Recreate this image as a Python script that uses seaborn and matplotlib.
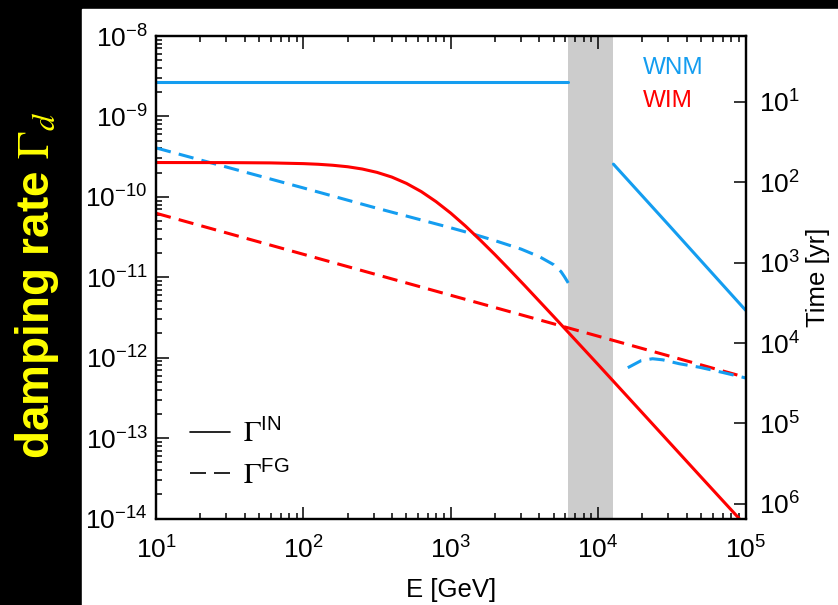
import numpy as np
import pandas as pd
import matplotlib
matplotlib.use("Agg")
import matplotlib.pyplot as plt
import seaborn as sns
from matplotlib.patches import Rectangle
from matplotlib.lines import Line2D
from matplotlib.ticker import LogLocator, FuncFormatter, NullLocator

# WNM, ion-neutral damping (broken by the grey band)
e_wnm_in_lo = [10, 6.27e3]
g_wnm_in_lo = [2.65e-9, 2.65e-9]
e_wnm_in_hi = [1.27e4, 3e4, 1e5]
g_wnm_in_hi = [2.55e-10, 4.5e-11, 3.9e-12]

# WNM, Farmer-Goldreich damping
e_wnm_fg_lo = [10, 30, 100, 300, 1000, 1400, 2000, 3000, 4000, 5000, 5600, 5900, 6270]
g_wnm_fg_lo = [4.06e-10, 2.35e-10, 1.29e-10, 7.4e-11, 4.12e-11, 3.47e-11,
               2.85e-11, 2.24e-11, 1.80e-11, 1.43e-11, 1.175e-11, 1.02e-11, 8.5e-12]
e_wnm_fg_hi = [1.59e4, 1.96e4, 2.34e4, 2.74e4, 3.56e4, 4.87e4, 7e4, 1e5]
g_wnm_fg_hi = [7.5e-13, 9.2e-13, 9.7e-13, 9.4e-13, 8.4e-13, 7.6e-13, 6.55e-13, 5.6e-13]

# WIM, ion-neutral damping
e_wim_in = [10, 30, 60, 100, 126, 158, 200, 251, 316, 398, 501, 631, 794, 1000,
            1259, 1585, 1995, 2512, 3162, 5012, 1e4, 2e4, 5e4, 1e5]
g_wim_in = [2.67e-10, 2.665e-10, 2.642e-10, 2.588e-10, 2.541e-10, 2.47e-10,
            2.366e-10, 2.218e-10, 2.014e-10, 1.762e-10, 1.468e-10, 1.162e-10,
            8.73e-11, 6.27e-11, 4.33e-11, 2.9e-11, 1.91e-11, 1.236e-11, 7.94e-12,
            3.22e-12, 8.2e-13, 2.05e-13, 3.27e-14, 8.2e-15]

# WIM, Farmer-Goldreich damping
e_wim_fg = [10, 100, 1000, 1e4, 1e5]
g_wim_fg = [6.25e-11, 1.93e-11, 5.97e-12, 1.85e-12, 5.7e-13]

band = (6.27e3, 1.27e4)
time_ticks = [1e1, 1e2, 1e3, 1e4, 1e5, 1e6]
YR = 3.156e7
TFAC = 0.48   # time axis: t = TFAC / (Gamma * yr)

BLUE = "#149df0"
RED = "#ff0000"

sns.set_style("ticks")
plt.rcParams["font.family"] = ["Liberation Sans", "DejaVu Sans"]
plt.rcParams["mathtext.fontset"] = "stix"
plt.rcParams["text.color"] = "black"
plt.rcParams["axes.labelcolor"] = "black"

fig = plt.figure(figsize=(8.38, 6.05), dpi=100)
fig.patch.set_facecolor("black")
fig.add_artist(Rectangle((82 / 838, 0), 1 - 82 / 838, 596 / 605,
                         transform=fig.transFigure, color="white", zorder=-10))

ax = fig.add_axes([156 / 838, 86.5 / 605, 589.5 / 838, 482.5 / 605])
ax.set_xscale("log")
ax.set_yscale("log")
ax.axvspan(*band, color="#cccccc", lw=0, zorder=0)

dash = (0, (5, 2.7))
lw = 2.2
sns.lineplot(x=e_wnm_in_lo, y=g_wnm_in_lo, ax=ax, color=BLUE, lw=lw, estimator=None)
sns.lineplot(x=e_wnm_in_hi, y=g_wnm_in_hi, ax=ax, color=BLUE, lw=lw, estimator=None)
sns.lineplot(x=e_wnm_fg_lo, y=g_wnm_fg_lo, ax=ax, color=BLUE, lw=lw, linestyle=dash, estimator=None)
sns.lineplot(x=e_wim_fg, y=g_wim_fg, ax=ax, color=RED, lw=lw, linestyle=dash, estimator=None)
sns.lineplot(x=e_wnm_fg_hi, y=g_wnm_fg_hi, ax=ax, color=BLUE, lw=lw, linestyle=dash, estimator=None)
sns.lineplot(x=e_wim_in, y=g_wim_in, ax=ax, color=RED, lw=lw, estimator=None)

ax.set_xlim(10, 1e5)
ax.set_ylim(1e-14, 1e-8)

fmt = FuncFormatter(lambda v, p: r"$\mathregular{10^{%d}}$" % round(np.log10(v)))
for axis in (ax.xaxis, ax.yaxis):
    axis.set_major_locator(LogLocator(base=10, numticks=20))
    axis.set_minor_locator(LogLocator(base=10, subs=np.arange(2, 10), numticks=20))
    axis.set_major_formatter(fmt)
ax.tick_params(which="both", direction="in", top=True, right=False, width=1.1, colors="black")
ax.tick_params(which="major", length=9, labelsize=19)
ax.tick_params(which="minor", length=4.5)
ax.tick_params(axis="x", which="major", pad=13)
ax.tick_params(axis="y", which="major", pad=6)
for s in ax.spines.values():
    s.set_linewidth(1.6)
    s.set_color("black")
ax.set_xlabel("E [GeV]", fontsize=18.5, labelpad=10)
ax.yaxis.label.set_visible(False)

ax.text(0.826, 0.934, "WNM", color=BLUE, fontsize=17.5, transform=ax.transAxes, va="center")
ax.text(0.826, 0.865, "WIM", color=RED, fontsize=17.5, transform=ax.transAxes, va="center")

handles = [Line2D([], [], color="black", lw=1.2),
           Line2D([], [], color="black", lw=1.2, linestyle=(0, (9.6, 4.8)))]
labels = [r"$\Gamma^{\mathregular{IN}}$", r"$\Gamma^{\mathregular{FG}}$"]
ax.legend(handles, labels, loc="lower left", bbox_to_anchor=(0.057, 0.06), frameon=False,
          fontsize=21, handlelength=1.37, handletextpad=0.45, borderpad=0, borderaxespad=0,
          labelspacing=0.45)

# time axis on the right
ax2 = ax.twinx()
ax2.set_yscale("log")
ax2.set_ylim(TFAC / (1e-14 * YR), TFAC / (1e-8 * YR))
ax2.yaxis.set_major_locator(plt.FixedLocator(time_ticks))
ax2.yaxis.set_minor_locator(NullLocator())
ax2.yaxis.set_major_formatter(fmt)
ax2.tick_params(axis="y", which="major", direction="in", length=9, width=1.1,
                labelsize=19, pad=10, colors="black")
for s in ax2.spines.values():
    s.set_linewidth(1.6)
    s.set_color("black")
ax2.set_ylabel("Time [yr]", fontsize=18.5, labelpad=4, color="black")
ax2.xaxis.label.set_visible(False)

fig.text(37 / 838, 1 - 285 / 605, r"damping rate $\Gamma_d$", color="#ffff00",
         fontsize=33, fontweight="bold", rotation=90, ha="center", va="center")

fig.savefig("out.png", dpi=100, facecolor=fig.get_facecolor())
